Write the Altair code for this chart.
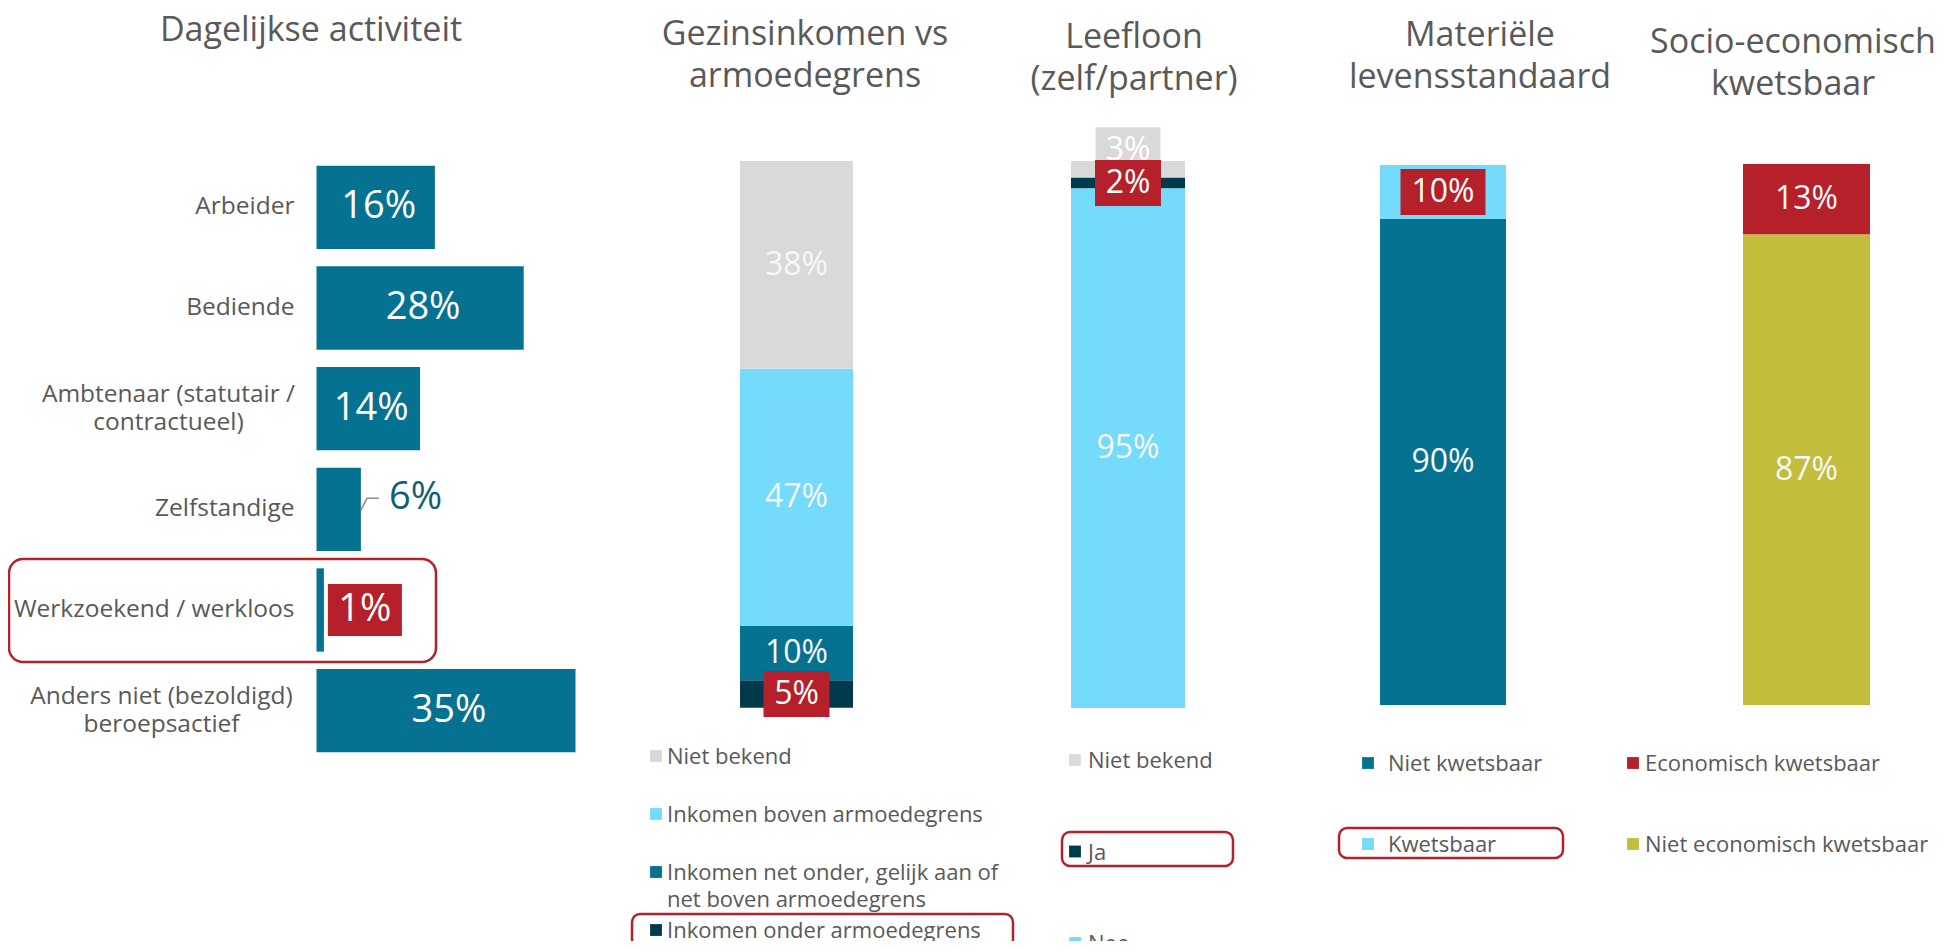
import altair as alt
import pandas as pd

# ---------------- data ----------------
act_labels = ["Arbeider", "Bediende", "Ambtenaar (statutair / contractueel)", "Zelfstandige",
              "Werkzoekend / werkloos", "Anders niet (bezoldigd) beroepsactief"]
act_values = [16, 28, 14, 6, 1, 35]

inc_labels = ["Niet bekend", "Inkomen boven armoedegrens",
              "Inkomen net onder, gelijk aan of net boven armoedegrens", "Inkomen onder armoedegrens"]
inc_values = [38, 47, 10, 5]

lee_labels = ["Niet bekend", "Ja", "Nee"]
lee_values = [3, 2, 95]

mat_labels = ["Niet kwetsbaar", "Kwetsbaar"]
mat_values = [90, 10]

soc_labels = ["Economisch kwetsbaar", "Niet economisch kwetsbaar"]
soc_values = [13, 87]

panel_titles = ["Dagelijkse activiteit", "Gezinsinkomen vs\narmoedegrens", "Leefloon\n(zelf/partner)",
                "Materiële\nlevensstandaard", "Socio-economisch\nkwetsbaar"]

# ---------------- styles ----------------
FONT = "Open Sans"
TXT = "#595959"
TEAL = "#067292"
LBLUE = "#74dbfa"
NAVY = "#003a4b"
GREY = "#d9d9d9"
RED = "#b5202a"
OLIVE = "#c2bd3a"

wrap = {
    "Ambtenaar (statutair / contractueel)": "Ambtenaar (statutair /\ncontractueel)",
    "Anders niet (bezoldigd) beroepsactief": "Anders niet (bezoldigd)\nberoepsactief",
    "Inkomen net onder, gelijk aan of net boven armoedegrens": "Inkomen net onder, gelijk aan of\nnet boven armoedegrens",
}


def rect_path(w, h):
    s = max(w, h) / 2.0
    a, b = w / 2.0 / s, h / 2.0 / s
    return f"M{-a:.4f},{-b:.4f}L{a:.4f},{-b:.4f}L{a:.4f},{b:.4f}L{-a:.4f},{b:.4f}Z", (2 * s) ** 2


# ---------------- panel 1: horizontal bars ----------------
df1 = pd.DataFrame({"cat": act_labels, "val": act_values})
df1["zero"] = 0
df1["mid"] = df1["val"] / 2
df1["lab"] = df1["val"].astype(str) + "%"
df1["name"] = [wrap.get(c, c) for c in act_labels]

xs1 = alt.Scale(domain=[0, 100], range=[308.5, 1048.5], nice=False, zero=True)
ys1 = alt.Scale(domain=act_labels, range=[149.0, 753.0], paddingInner=0.1725, paddingOuter=0.08625)
Y1 = alt.Y("cat:N", scale=ys1, axis=None)


def X1(f):
    return alt.X(f, type="quantitative", scale=xs1, axis=None)


base1 = alt.Chart(df1)
LEADER = "M-0.8,0.6L-0.2,-0.6L1,-0.6"
p1_layers = [
    base1.mark_bar(color=TEAL).encode(x=X1("val"), y=Y1),
    base1.transform_filter("datum.val >= 10").mark_text(
        color="white", fontSize=38, font=FONT, align="center", baseline="middle", dx=3
    ).encode(x=X1("mid"), y=Y1, text="lab:N"),
    base1.transform_filter("datum.val >= 3 && datum.val < 10").mark_point(
        shape=LEADER, size=400, filled=False, color="#8c8c8c", strokeWidth=1.5, opacity=1,
        xOffset=8, yOffset=-5
    ).encode(x=X1("val"), y=Y1),
    base1.transform_filter("datum.val >= 3 && datum.val < 10").mark_text(
        color="#0f5f77", fontSize=38, font=FONT, align="left", baseline="middle", dx=28, dy=-11
    ).encode(x=X1("val"), y=Y1, text="lab:N"),
]
bp, bs = rect_path(74, 52)
p1_layers += [
    base1.transform_filter("datum.val < 3").mark_point(
        shape=bp, size=bs, filled=True, color=RED, opacity=1, strokeWidth=0, xOffset=41
    ).encode(x=X1("val"), y=Y1),
    base1.transform_filter("datum.val < 3").mark_text(
        color="white", fontSize=38, font=FONT, align="center", baseline="middle", dx=41
    ).encode(x=X1("val"), y=Y1, text="lab:N"),
    base1.transform_filter("indexof(datum.name, '\\n') < 0").mark_text(
        color=TXT, fontSize=24.5, font=FONT, align="right", baseline="middle", dx=-22
    ).encode(x=X1("zero"), y=Y1, text="name:N"),
]
multi_dx = {"Ambtenaar (statutair / contractueel)": -148, "Anders niet (bezoldigd) beroepsactief": -155}
for cat, dxv in multi_dx.items():
    p1_layers.append(
        base1.transform_filter(alt.FieldEqualPredicate(field="cat", equal=cat)).mark_text(
            color=TXT, fontSize=24.5, font=FONT, align="center", baseline="middle", dx=dxv, dy=-14,
            lineBreak="\n", lineHeight=28
        ).encode(x=X1("zero"), y=Y1, text="name:N")
    )
panel1 = alt.layer(*p1_layers)


# ---------------- vertical stacked panels ----------------
def vpanel(name, labels, values, colors, bottom_to_top, xr, yr, fsize, specials):
    df = pd.DataFrame({"cat": labels, "val": values, "color": colors})
    df["panel"] = name
    sub = df.set_index("cat").loc[bottom_to_top].reset_index()
    sub["y1"] = sub["val"].cumsum()
    sub["y0"] = sub["y1"] - sub["val"]
    sub["mid"] = (sub["y0"] + sub["y1"]) / 2
    sub["lab"] = sub["val"].astype(str) + "%"
    xs = alt.Scale(domain=[name], range=xr, padding=0)
    ys = alt.Scale(domain=[0, 100], range=yr, nice=False, zero=False)
    X = alt.X("panel:N", scale=xs, axis=None)
    base = alt.Chart(sub)
    layers = [
        base.mark_bar().encode(
            x=X, y=alt.Y("y0:Q", scale=ys, axis=None), y2="y1:Q",
            color=alt.Color("color:N", scale=None)
        )
    ]
    plain = [c for c in labels if c not in specials]
    layers.append(
        base.transform_filter(alt.FieldOneOfPredicate(field="cat", oneOf=plain)).mark_text(
            color="#f7f7f7", fontSize=fsize, font=FONT, align="center", baseline="middle"
        ).encode(x=X, y=alt.Y("mid:Q", scale=ys, axis=None), text="lab:N")
    )
    for cat, (bcol, w, h, yoff) in specials.items():
        path, size = rect_path(w, h)
        flt = alt.FieldEqualPredicate(field="cat", equal=cat)
        layers.append(
            base.transform_filter(flt).mark_point(
                shape=path, size=size, filled=True, color=bcol, opacity=1, strokeWidth=0, yOffset=yoff
            ).encode(x=X, y=alt.Y("mid:Q", scale=ys, axis=None))
        )
        layers.append(
            base.transform_filter(flt).mark_text(
                color="white", fontSize=fsize, font=FONT, align="center", baseline="middle", dy=yoff
            ).encode(x=X, y=alt.Y("mid:Q", scale=ys, axis=None), text="lab:N")
        )
    return alt.layer(*layers)


def legend(labels, colors, yr, sq_x, txt_x):
    df = pd.DataFrame({"cat": labels, "color": colors, "name": [wrap.get(c, c) for c in labels]})
    ys = alt.Scale(type="point", domain=labels, range=yr, padding=0)
    Y = alt.Y("cat:N", scale=ys, axis=None)
    sq = alt.Chart(df).mark_point(shape="square", filled=True, size=140, opacity=1, strokeWidth=0).encode(
        x=alt.value(sq_x), y=Y, color=alt.Color("color:N", scale=None))
    tx = alt.Chart(df).mark_text(
        align="left", baseline="alphabetic", dy=8, fontSize=22, font=FONT, color=TXT,
        lineBreak="\n", lineHeight=27
    ).encode(x=alt.value(txt_x), y=Y, text="name:N")
    return alt.layer(sq, tx)


inc_colors = [GREY, LBLUE, TEAL, NAVY]
lee_colors = [GREY, NAVY, LBLUE]
mat_colors = [TEAL, LBLUE]
soc_colors = [RED, OLIVE]

panel2 = vpanel("inc", inc_labels, inc_values, inc_colors,
                [inc_labels[3], inc_labels[2], inc_labels[1], inc_labels[0]],
                [732, 845], [699.7, 153], 32,
                {"Inkomen onder armoedegrens": (RED, 66, 46, 0)})
panel3 = vpanel("lee", lee_labels, lee_values, lee_colors,
                ["Nee", "Ja", "Niet bekend"],
                [1063, 1177], [700, 153], 32,
                {"Niet bekend": (GREY, 65, 46, -19), "Ja": (RED, 66, 46, 0)})
panel4 = vpanel("mat", mat_labels, mat_values, mat_colors,
                ["Niet kwetsbaar", "Kwetsbaar"],
                [1372, 1498], [697, 157], 32,
                {"Kwetsbaar": (RED, 85, 46, 0)})
panel5 = vpanel("soc", soc_labels, soc_values, soc_colors,
                ["Niet economisch kwetsbaar", "Economisch kwetsbaar"],
                [1735, 1862], [697, 156], 32, {})

leg2 = legend(inc_labels, inc_colors, [748, 922], 648, 659)
leg3 = legend(lee_labels, lee_colors, [752, 935], 1067, 1080)
leg4 = legend(mat_labels, mat_colors, [755, 836], 1360, 1380)
leg5 = legend(soc_labels, soc_colors, [755, 836], 1625, 1637)

# ---------------- titles ----------------
title_pos = [(303, 33), (797, 37), (1126, 40), (1472, 38), (1785, 45)]
titles = []
for t, (tx_, ty_) in zip(panel_titles, title_pos):
    titles.append(
        alt.Chart(pd.DataFrame({"t": [t]})).mark_text(
            align="center", baseline="alphabetic", fontSize=34, font=FONT, color=TXT,
            lineBreak="\n", lineHeight=42
        ).encode(x=alt.value(tx_), y=alt.value(ty_), text="t:N")
    )

# ---------------- highlight boxes ----------------
hl_boxes = [(1, 428, 551, 654, 14), (624, 1005, 906, 939, 8), (1054, 1225, 824, 858, 8),
            (1331, 1555, 820, 850, 8)]
highlights = []
for x0, x1, y0, y1, r in hl_boxes:
    highlights.append(
        alt.Chart(pd.DataFrame({"k": [0]})).mark_rect(
            filled=False, color=RED, strokeWidth=2.5, cornerRadius=r
        ).encode(x=alt.value(x0), x2=alt.value(x1), y=alt.value(y0), y2=alt.value(y1))
    )

chart = alt.layer(
    panel1, panel2, leg2, panel3, leg3, panel4, leg4, panel5, leg5, *titles, *highlights
).resolve_scale(x="independent", y="independent").properties(
    width=1928, height=933, padding=0, autosize=alt.AutoSizeParams(type="none")
).configure_view(stroke=None)

chart.save("out.html", embed_options={"renderer": "svg", "actions": False})
